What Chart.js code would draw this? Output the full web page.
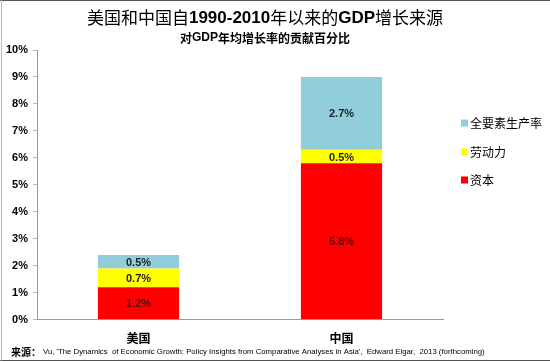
<!DOCTYPE html>
<html>
<head>
<meta charset="utf-8">
<script src="https://cdn.jsdelivr.net/npm/chart.js@4.4.0/dist/chart.umd.min.js"></script>
<style>
  html, body { margin: 0; padding: 0; background: #fff; }
  #wrap { width: 550px; height: 362px; position: relative; }
</style>
</head>
<body>
<div id="wrap"><canvas id="chart" width="550" height="362"></canvas></div>
<script>
// categories and series (percentage points of GDP growth)
const countries = ['美国', '中国']
const capital = [1.2, 5.8]
const labour = [0.7, 0.5]
const tfp = [0.5, 2.7]
const seriesNames = ['资本', '劳动力', '全要素生产率']
const yTicks = [0, 1, 2, 3, 4, 5, 6, 7, 8, 9, 10]

const titleText = '美国和中国自1990-2010年以来的GDP增长来源'
const subtitleText = '对GDP年均增长率的贡献百分比'
const sourceLabel = '来源：'
const sourceText = "Vu, 'The Dynamics  of Economic Growth: Policy Insights from Comparative Analyses in Asia',  Edward Elgar,  2013 (forthcoming)"

const CJK = "'Noto Sans CJK SC'"
const LAT = "'Liberation Sans', 'Noto Sans CJK SC'"

const colors = ['#ff0000', '#ffff00', '#92cddc']

//split a string into latin / non-latin runs so the latin part can be bold
function runs(text) {
	const out = []
	for (const ch of text) {
		const latin = /[\x20-\x7e]/.test(ch)
		if (out.length && out[out.length - 1].latin === latin) out[out.length - 1].s += ch
		else out.push({ s: ch, latin })
	}
	return out
}

function drawMixed(ctx, text, cx, y, size, cjkWeight, latWeight) {
	const parts = runs(text)
	let total = 0
	parts.forEach(p => {
		ctx.font = (p.latin ? latWeight : cjkWeight) + ' ' + size + 'px ' + (p.latin ? LAT : CJK)
		p.w = ctx.measureText(p.s).width
		total += p.w
	})
	let x = cx - total / 2
	parts.forEach(p => {
		ctx.font = (p.latin ? latWeight : cjkWeight) + ' ' + size + 'px ' + (p.latin ? LAT : CJK)
		ctx.fillText(p.s, x, y)
		x += p.w
	})
}

const extras = {
	id: 'extras',
	afterDatasetsDraw(chart) {
		const ctx = chart.ctx
		ctx.save()
		ctx.textBaseline = 'middle'
		ctx.textAlign = 'center'
		//value labels centred in each segment
		chart.data.datasets.forEach((ds, i) => {
			const meta = chart.getDatasetMeta(i)
			meta.data.forEach((bar, j) => {
				const p = bar.getCenterPoint()
				ctx.font = 'bold 11px ' + LAT
				ctx.fillStyle = i === 0 ? '#5a0a0a' : '#1f1f1f'
				ctx.fillText(ds.data[j].toFixed(1) + '%', p.x, p.y + 1)
			})
		})
		ctx.restore()
	},
	afterDraw(chart) {
		const ctx = chart.ctx
		ctx.save()
		ctx.textBaseline = 'middle'
		ctx.textAlign = 'left'
		ctx.fillStyle = '#000'
		drawMixed(ctx, titleText, 265, 18, 17, 'normal', 'bold')
		drawMixed(ctx, subtitleText, 265, 38, 12, 'bold', 'bold')

		//legend, top item first
		const legendY = [123, 152, 180]
		const order = [2, 1, 0]
		order.forEach((d, k) => {
			ctx.fillStyle = colors[d]
			ctx.fillRect(461, legendY[k] - 3.5, 7, 7)
			ctx.fillStyle = '#000'
			ctx.font = '12px ' + CJK
			ctx.fillText(seriesNames[d], 470, legendY[k])
		})

		//source line, sized to fit the same width as the original
		ctx.font = 'bold 10px ' + CJK
		ctx.fillText(sourceLabel, 11, 352)
		const x0 = 11 + ctx.measureText(sourceLabel).width + 2
		ctx.font = "10px 'Liberation Sans'"
		const fit = 10 * (485 - x0) / ctx.measureText(sourceText).width
		ctx.font = fit.toFixed(2) + "px 'Liberation Sans'"
		ctx.fillText(sourceText, x0, 352)

		//frame
		ctx.strokeStyle = '#555'
		ctx.lineWidth = 1
		ctx.beginPath()
		ctx.moveTo(0, 0.5); ctx.lineTo(550, 0.5)
		ctx.moveTo(0, 360.5); ctx.lineTo(550, 360.5)
		ctx.stroke()
		ctx.strokeStyle = '#bbb'
		ctx.beginPath()
		ctx.moveTo(1.5, 0); ctx.lineTo(1.5, 361)
		ctx.stroke()
		ctx.restore()
	}
}

const graph = document.getElementById('chart')
const myChart = new Chart(graph, {
	type: 'bar',
	data: {
		labels: countries,
		datasets: [capital, labour, tfp].map((vals, i) => ({
			label: seriesNames[i],
			data: vals,
			backgroundColor: colors[i],
			borderWidth: 0,
			barPercentage: 0.4,
			categoryPercentage: 1
		}))
	},
	options: {
		responsive: false,
		animation: false,
		layout: { padding: { top: 50, right: 107, bottom: 4, left: 1 } },
		plugins: {
			legend: { display: false },
			tooltip: { enabled: false },
			title: { display: false }
		},
		scales: {
			x: {
				stacked: true,
				grid: { display: false, drawTicks: false },
				border: { display: true, color: '#9a9a9a', width: 1 },
				ticks: { color: '#000', font: { family: CJK, weight: 'bold', size: 12 }, padding: 12 }
			},
			y: {
				stacked: true,
				min: yTicks[0],
				max: yTicks[yTicks.length - 1],
				afterBuildTicks: axis => { axis.ticks = yTicks.map(v => ({ value: v })) },
				grid: { drawOnChartArea: false, color: '#bdbdbd', tickLength: 4 },
				border: { display: true, color: '#9a9a9a', width: 1 },
				ticks: {
					color: '#000',
					font: { family: LAT, weight: 'bold', size: 11 },
					padding: 5,
					callback: v => v + '%'
				}
			}
		}
	},
	plugins: [extras]
})
</script>
</body>
</html>
